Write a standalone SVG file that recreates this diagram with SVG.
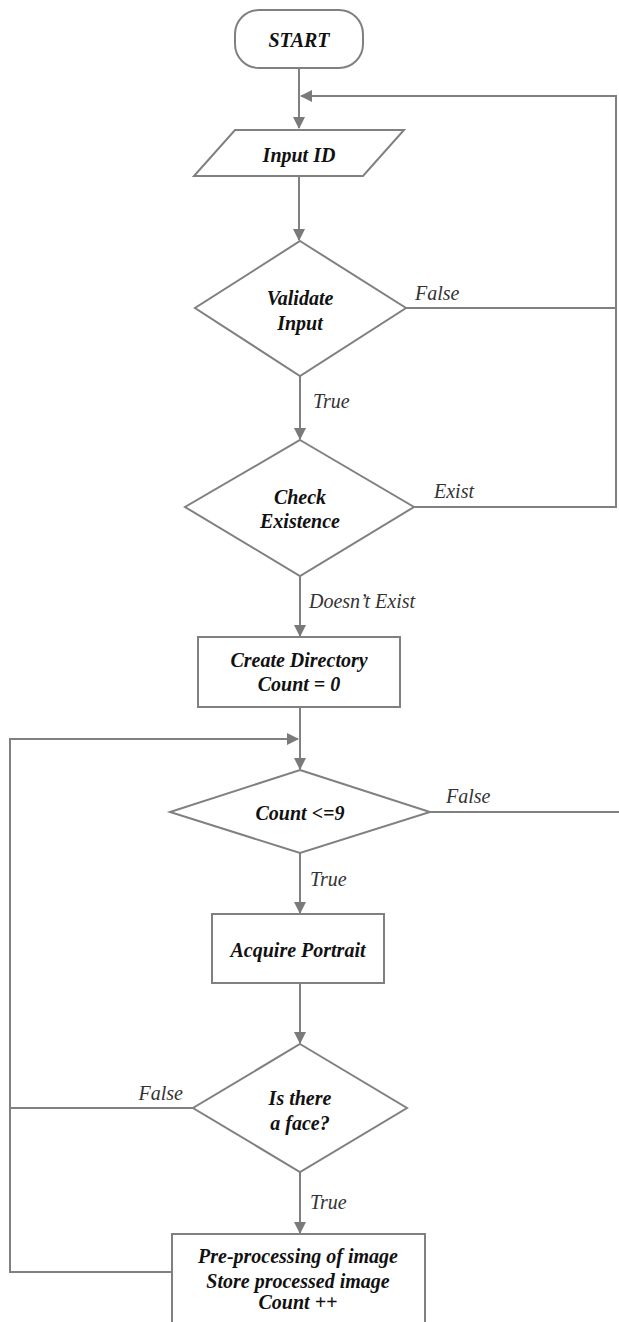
<svg xmlns="http://www.w3.org/2000/svg" width="619" height="1322" viewBox="0 0 619 1322">
<defs>
<marker id="ah" markerWidth="12" markerHeight="12" viewBox="0 0 12 12" refX="11" refY="6" orient="auto" markerUnits="userSpaceOnUse">
<path d="M0,0 L12,6 L0,12 Z" fill="#7a7a7a"/>
</marker>
<style>
.shape{fill:#ffffff;stroke:#808080;stroke-width:2}
.edge{fill:none;stroke:#808080;stroke-width:2}
.t{font-family:"Liberation Serif","Times New Roman",serif;font-size:20px;font-weight:bold;font-style:italic;fill:#111;text-anchor:middle}
.lbl{font-family:"Liberation Serif","Times New Roman",serif;font-size:20px;font-style:italic;fill:#333}
</style>
</defs>
<rect width="619" height="1322" fill="#ffffff"/>
<g id="connectors">
<path class="edge" d="M299,68 V128" marker-end="url(#ah)"/>
<path class="edge" d="M406,308 H616"/>
<path class="edge" d="M414,507 H616 V96 H301" marker-end="url(#ah)"/>
<path class="edge" d="M299,176 V240" marker-end="url(#ah)"/>
<path class="edge" d="M300,376 V439" marker-end="url(#ah)"/>
<path class="edge" d="M300,576 V636" marker-end="url(#ah)"/>
<path class="edge" d="M300,707 V769" marker-end="url(#ah)"/>
<path class="edge" d="M430,812 H619"/>
<path class="edge" d="M300,853 V913" marker-end="url(#ah)"/>
<path class="edge" d="M300,983 V1043" marker-end="url(#ah)"/>
<path class="edge" d="M193,1108 H10"/>
<path class="edge" d="M172,1272 H10 V739 H298" marker-end="url(#ah)"/>
<path class="edge" d="M300,1172 V1233" marker-end="url(#ah)"/>
<text class="lbl" x="415" y="300">False</text>
<text class="lbl" x="313" y="408">True</text>
<text class="lbl" x="434" y="498">Exist</text>
<text class="lbl" x="309" y="608">Doesn’t Exist</text>
<text class="lbl" x="446" y="803">False</text>
<text class="lbl" x="310" y="886">True</text>
<text class="lbl" x="183" y="1100" text-anchor="end">False</text>
<text class="lbl" x="310" y="1209">True</text>
</g>
<g id="start">
<rect class="shape" x="235" y="10" width="128" height="58" rx="24" ry="24"/>
<text class="t" x="299" y="47">START</text>
</g>
<g id="input-id">
<polygon class="shape" points="235,130 404,130 363,176 194,176"/>
<text class="t" x="299" y="162">Input ID</text>
</g>
<g id="validate-input">
<polygon class="shape" points="300,241 406,308 300,376 195,308"/>
<text class="t" x="300" y="305">Validate</text>
<text class="t" x="300" y="330">Input</text>
</g>
<g id="check-existence">
<polygon class="shape" points="300,440 414,507 300,576 185,507"/>
<text class="t" x="300" y="504">Check</text>
<text class="t" x="300" y="528">Existence</text>
</g>
<g id="create-directory">
<rect class="shape" x="198" y="637" width="202" height="70"/>
<text class="t" x="299" y="667">Create Directory</text>
<text class="t" x="299" y="691">Count = 0</text>
</g>
<g id="count-check">
<polygon class="shape" points="300,770 430,812 300,853 170,812"/>
<text class="t" x="300" y="820">Count &lt;=9</text>
</g>
<g id="acquire-portrait">
<rect class="shape" x="212" y="914" width="172" height="69"/>
<text class="t" x="298" y="957">Acquire Portrait</text>
</g>
<g id="face-check">
<polygon class="shape" points="300,1044 407,1108 300,1172 193,1108"/>
<text class="t" x="300" y="1105">Is there</text>
<text class="t" x="300" y="1130">a face?</text>
</g>
<g id="process-image">
<rect class="shape" x="172" y="1234" width="253" height="110"/>
<text class="t" x="298" y="1263">Pre-processing of image</text>
<text class="t" x="298" y="1288">Store processed image</text>
<text class="t" x="298" y="1309">Count ++</text>
</g>
</svg>
